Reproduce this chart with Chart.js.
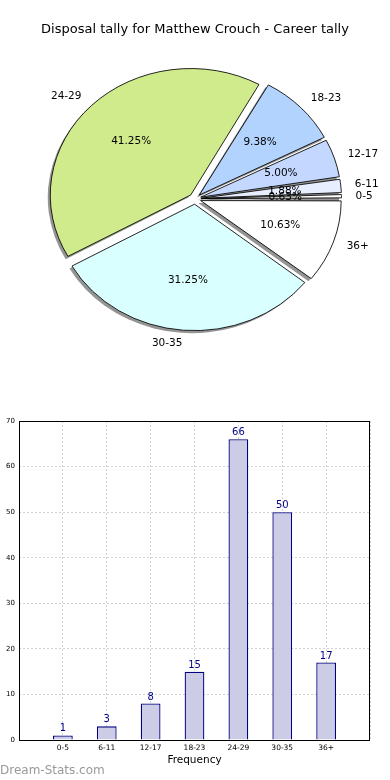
<!DOCTYPE html>
<html lang="en">
<head>
    <meta charset="UTF-8">
    <meta name="viewport" content="width=device-width, initial-scale=1.0">
    <title>Disposal tally for Matthew Crouch - Career tally</title>
    <style>
        body {
            margin: 0;
            padding: 0;
            background: #fff;
            font-family: "DejaVu Sans", sans-serif;
        }

        .page {
            position: relative;
            width: 390px;
            height: 780px;
        }

        /* top: pie, bottom: frequency bars */
        #pieBox {
            position: absolute;
            left: 0;
            top: 0;
            width: 390px;
            height: 370px;
        }

        #barBox {
            position: absolute;
            left: 0;
            top: 370px;
            width: 390px;
            height: 410px;
        }

        .watermark {
            position: absolute;
            left: 0;
            top: 763px;
            font-size: 12px;
            line-height: 14px;
            color: #999;
        }
    </style>
</head>
<body>

<div class="page">
    <div id="pieBox"><canvas id="pieChart"></canvas></div>
    <div id="barBox"><canvas id="barChart"></canvas></div>
    <div class="watermark">Dream-Stats.com</div>
</div>

<script src="https://cdn.jsdelivr.net/npm/chart.js"></script>
<script>
    // Data
    const title = 'Disposal tally for Matthew Crouch - Career tally';
    const categories = ['0-5', '6-11', '12-17', '18-23', '24-29', '30-35', '36+'];
    const counts = [1, 3, 8, 15, 66, 50, 17];
    const sliceColors = ['#ffffff', '#e6eeff', '#c4d7ff', '#b3d3ff', '#d0eb8c', '#daffff', '#ffffff'];
    const yMax = 70;
    const yStep = 10;

    const total = counts.reduce((a, b) => a + b, 0);
    const font = '"DejaVu Sans"';

    // matplotlib goes counter-clockwise from 3 o'clock, chart.js clockwise,
    // so feed the slices in reverse order starting at 3 o'clock
    const pieLabels = categories.slice().reverse();
    const pieValues = counts.slice().reverse();
    const pieColors = sliceColors.slice().reverse();

    const PIE_R = 140.5;      // radius in px
    const SQUASH = 0.9;       // the original pie is an ellipse
    const EXPLODE = 24;       // chart.js moves an arc by offset / 4

    function pct(v) {
        return (Math.round(v * 10000 / total) / 100).toFixed(2) + '%';
    }

    const pieLook = {
        id: 'pieLook',
        beforeDatasetsDraw(chart) {
            const arcs = chart.getDatasetMeta(0).data;
            const cx = arcs[0].x, cy = arcs[0].y;
            const push = EXPLODE / 4;

            // chart.js makes small exploded slices bigger, undo that
            arcs.forEach(a => {
                const fix = 1 - Math.sin(Math.min(Math.PI, a.circumference));
                a.outerRadius = PIE_R - push * fix;
            });

            const ctx = chart.ctx;
            ctx.save();
            ctx.translate(cx, cy);
            ctx.scale(1, SQUASH);
            ctx.translate(-cx, -cy);

            // grey drop shadow under every slice
            ctx.save();
            ctx.translate(-2.5, 2.5 / SQUASH);
            ctx.fillStyle = 'rgba(0, 0, 0, 0.42)';
            arcs.forEach(a => {
                const mid = (a.startAngle + a.endAngle) / 2;
                const ox = cx + Math.cos(mid) * push;
                const oy = cy + Math.sin(mid) * push;
                ctx.beginPath();
                ctx.moveTo(ox, oy);
                ctx.arc(ox, oy, PIE_R, a.startAngle, a.endAngle);
                ctx.closePath();
                ctx.fill();
            });
            ctx.restore();
        },
        afterDatasetsDraw(chart) {
            const ctx = chart.ctx;
            ctx.restore();

            const arcs = chart.getDatasetMeta(0).data;
            const cx = arcs[0].x, cy = arcs[0].y;
            const push = EXPLODE / 4;

            ctx.save();
            ctx.fillStyle = '#000';
            ctx.font = '10.5px ' + font;
            ctx.textBaseline = 'middle';
            arcs.forEach((a, i) => {
                const mid = (a.startAngle + a.endAngle) / 2;
                const c = Math.cos(mid), s = Math.sin(mid);

                const lr = push + PIE_R * 1.1;
                ctx.textAlign = c > 0 ? 'left' : 'right';
                ctx.fillText(pieLabels[i], cx + c * lr, cy + s * lr * SQUASH);

                const pr = push + PIE_R * 0.6;
                ctx.textAlign = 'center';
                ctx.fillText(pct(pieValues[i]), cx + c * pr, cy + s * pr * SQUASH);
            });
            ctx.restore();
        }
    };

    new Chart(document.getElementById('pieChart'), {
        type: 'pie',
        data: {
            labels: pieLabels,
            datasets: [{
                data: pieValues,
                backgroundColor: pieColors,
                borderColor: '#000',
                borderWidth: 0.9,
                offset: EXPLODE,
                rotation: 90,
                radius: PIE_R
            }]
        },
        options: {
            responsive: true,
            maintainAspectRatio: false,
            animation: false,
            events: [],
            rotation: 90,
            radius: PIE_R,
            layout: { padding: { bottom: 20 } },
            plugins: {
                legend: { display: false },
                tooltip: { enabled: false },
                title: {
                    display: true,
                    text: title,
                    color: '#000',
                    font: { family: 'DejaVu Sans', size: 13, weight: 'normal' },
                    padding: { top: 22, bottom: 10 }
                }
            }
        },
        plugins: [pieLook]
    });

    // Bar chart: frame + value labels
    const barLook = {
        id: 'barLook',
        afterDraw(chart) {
            const ctx = chart.ctx;
            const area = chart.chartArea;
            ctx.save();
            ctx.strokeStyle = '#000';
            ctx.lineWidth = 1;
            ctx.strokeRect(Math.round(area.left) + 0.5, Math.round(area.top) + 0.5,
                Math.round(area.right - area.left) - 1, Math.round(area.bottom - area.top));

            ctx.fillStyle = '#00008b';
            ctx.font = '10px ' + font;
            ctx.textAlign = 'center';
            ctx.textBaseline = 'alphabetic';
            chart.getDatasetMeta(0).data.forEach((bar, i) => {
                ctx.fillText(String(counts[i]), bar.x, bar.y - 4);
            });
            ctx.restore();
        }
    };

    const gridStyle = { color: '#d2d2d2', lineWidth: 1, drawTicks: false, offset: false };

    new Chart(document.getElementById('barChart'), {
        type: 'bar',
        data: {
            datasets: [{
                data: categories.map((c, i) => ({ x: i, y: counts[i] })),
                backgroundColor: '#ccccE6',
                borderColor: '#000080',
                borderWidth: 1.3,
                barPercentage: 0.45,
                categoryPercentage: 1
            }]
        },
        options: {
            responsive: true,
            maintainAspectRatio: false,
            animation: false,
            events: [],
            layout: { padding: { top: 51, right: 20, left: 0, bottom: 0 } },
            plugins: {
                legend: { display: false },
                tooltip: { enabled: false }
            },
            scales: {
                x: {
                    type: 'linear',
                    min: -1,
                    max: categories.length,
                    offset: false,
                    z: 1,
                    afterFit: s => { s.height = 40; },
                    grid: gridStyle,
                    border: { display: false, dash: [2, 2] },
                    ticks: {
                        stepSize: 1,
                        autoSkip: false,
                        maxRotation: 0,
                        padding: 4,
                        color: '#000',
                        font: { family: 'DejaVu Sans', size: 7.5 },
                        callback: v => categories[v] || ''
                    },
                    title: {
                        display: true,
                        text: 'Frequency',
                        color: '#000',
                        font: { family: 'DejaVu Sans', size: 10.5 },
                        padding: { top: 0, bottom: 13.4 }
                    }
                },
                y: {
                    min: 0,
                    max: yMax,
                    z: 1,
                    afterFit: s => { s.width = 19; },
                    grid: gridStyle,
                    border: { display: false, dash: [2, 2] },
                    ticks: {
                        stepSize: yStep,
                        padding: 4,
                        color: '#000',
                        font: { family: 'DejaVu Sans', size: 7 }
                    }
                }
            }
        },
        plugins: [barLook]
    });
</script>

</body>
</html>
